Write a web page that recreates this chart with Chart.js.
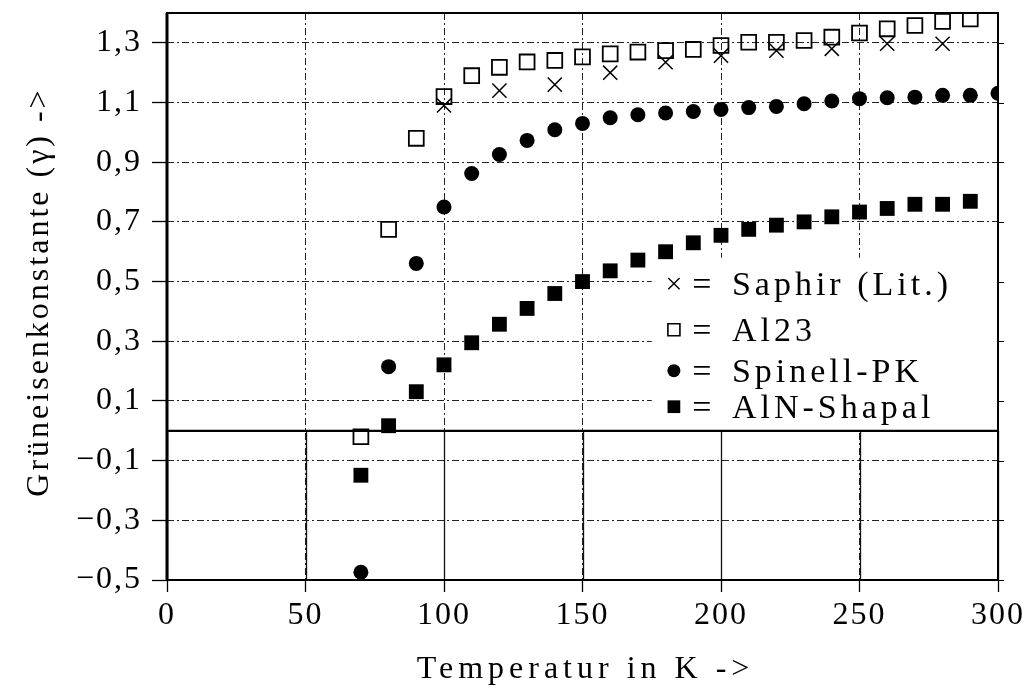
<!DOCTYPE html>
<html lang="de">
<head>
<meta charset="utf-8">
<title>Grüneisenkonstante</title>
<script src="https://cdn.jsdelivr.net/npm/chart.js@4.4.1/dist/chart.umd.min.js"></script>
<style>
  html, body { margin: 0; padding: 0; background: #fff; }
  canvas { display: block; }
</style>
</head>
<body>
<canvas id="gamma" width="1027" height="697"></canvas>
<script>
// Messwerte: Temperatur in K und Grüneisenkonstante
const saphirT = [100, 120, 140, 160, 180, 200, 220, 240, 260, 280];
const saphirG = [1.09, 1.14, 1.16, 1.20, 1.235, 1.257, 1.274, 1.28, 1.297, 1.297];

const al23T = [70, 80, 90, 100, 110, 120, 130, 140, 150, 160, 170, 180, 190, 200, 210, 220, 230, 240, 250, 260, 270, 280, 290];
const al23G = [-0.02, 0.675, 0.98, 1.12, 1.19, 1.218, 1.236, 1.241, 1.253, 1.263, 1.269, 1.274, 1.278, 1.291, 1.302, 1.302, 1.308, 1.319, 1.333, 1.347, 1.358, 1.372, 1.38];

const spinellT = [70, 80, 90, 100, 110, 120, 130, 140, 150, 160, 170, 180, 190, 200, 210, 220, 230, 240, 250, 260, 270, 280, 290, 300];
const spinellG = [-0.474, 0.215, 0.561, 0.75, 0.862, 0.926, 0.973, 1.009, 1.03, 1.049, 1.059, 1.065, 1.07, 1.077, 1.083, 1.087, 1.096, 1.105, 1.113, 1.116, 1.118, 1.124, 1.124, 1.131];

const alnT = [70, 80, 90, 100, 110, 120, 130, 140, 150, 160, 170, 180, 190, 200, 210, 220, 230, 240, 250, 260, 270, 280, 290];
const alnG = [-0.149, 0.017, 0.131, 0.221, 0.295, 0.357, 0.41, 0.46, 0.5, 0.536, 0.572, 0.60, 0.63, 0.655, 0.675, 0.689, 0.70, 0.717, 0.733, 0.745, 0.759, 0.759, 0.769];

const seriesNames = ['Saphir (Lit.)', 'Al23', 'Spinell-PK', 'AlN-Shapal'];
const xTicks = [0, 50, 100, 150, 200, 250, 300];
const yTicks = [-0.5, -0.3, -0.1, 0.1, 0.3, 0.5, 0.7, 0.9, 1.1, 1.3];
const xTitle = 'Temperatur in K ->';
const yTitle = 'Grüneisenkonstante (γ) ->';

const serif = "'Liberation Serif', 'Times New Roman', serif";
Chart.defaults.font.family = serif;
Chart.defaults.color = '#000';

function pairs(xs, ys) {
  return xs.map((x, i) => ({ x: x, y: ys[i] }));
}

function fmt(v) {
  const s = Math.abs(v).toFixed(1).replace('.', ',');
  return v < 0 ? '\u2212' + s : s;
}

// symbol sizes used in the legend box
const legendMarks = [
  { pointStyle: 'crossRot', radius: 8, borderWidth: 1.4 },
  { pointStyle: 'rect', radius: 8.5, borderWidth: 1.6 },
  { pointStyle: 'circle', radius: 6.5, borderWidth: 0 },
  { pointStyle: 'rect', radius: 9, borderWidth: 0 }
];
const legendRows = [26, 72, 113, 149];

const framePlugin = {
  id: 'frame',
  beforeDraw(chart) {
    chart.ctx.letterSpacing = '2px';
  },
  beforeDatasetsDraw(chart) {
    const ctx = chart.ctx;
    const a = chart.chartArea;
    const xs = chart.scales.x;
    const ys = chart.scales.y;
    const y0 = ys.getPixelForValue(0);
    ctx.save();
    // below zero the vertical grid is solid
    ctx.strokeStyle = '#111';
    ctx.lineWidth = 1.3;
    ctx.beginPath();
    xTicks.forEach(t => {
      const px = Math.round(xs.getPixelForValue(t)) + 0.5;
      ctx.moveTo(px, y0);
      ctx.lineTo(px, a.bottom);
    });
    ctx.stroke();

    // white field behind the legend
    const bx = xs.getPixelForValue(175);
    const by = ys.getPixelForValue(0.58);
    ctx.fillStyle = '#fff';
    ctx.fillRect(bx, by, a.right - bx, y0 - by);

    // zero line
    ctx.strokeStyle = '#000';
    ctx.lineWidth = 2.2;
    ctx.beginPath();
    ctx.moveTo(a.left, y0);
    ctx.lineTo(a.right, y0);
    ctx.stroke();

    // plot frame
    ctx.lineWidth = 2;
    ctx.strokeRect(a.left, a.top, a.right - a.left, a.bottom - a.top);
    ctx.lineWidth = 3;
    ctx.beginPath();
    ctx.moveTo(a.left, a.top);
    ctx.lineTo(a.left, a.bottom);
    ctx.stroke();

    // little ticks on the right edge
    ctx.lineWidth = 1;
    ctx.beginPath();
    yTicks.forEach(t => {
      const py = Math.round(ys.getPixelForValue(t)) + 0.5;
      ctx.moveTo(a.right, py);
      ctx.lineTo(a.right + 6, py);
    });
    ctx.stroke();
    ctx.restore();
  },
  afterDatasetsDraw(chart) {
    const ctx = chart.ctx;
    const a = chart.chartArea;
    const xs = chart.scales.x;
    const ys = chart.scales.y;
    const top = ys.getPixelForValue(0.58);
    const mx = xs.getPixelForValue(183);
    ctx.save();
    ctx.textBaseline = 'middle';
    ctx.font = '34px ' + serif;
    ctx.fillStyle = '#000';
    chart.data.datasets.forEach((ds, i) => {
      const py = top + legendRows[i];
      const m = legendMarks[i];
      ctx.fillStyle = ds.backgroundColor;
      ctx.strokeStyle = ds.borderColor;
      ctx.lineWidth = m.borderWidth;
      Chart.helpers.drawPoint(ctx, { pointStyle: m.pointStyle, radius: m.radius, rotation: 0, borderWidth: m.borderWidth }, mx, py);
      ctx.fillStyle = '#000';
      ctx.letterSpacing = '0px';
      ctx.textAlign = 'center';
      ctx.fillText('=', mx + 28, py + 2);
      ctx.textAlign = 'left';
      ctx.letterSpacing = '4px';
      ctx.fillText(ds.label, mx + 58, py + 2);
    });

    // axis titles
    ctx.font = '32px ' + serif;
    ctx.textAlign = 'center';
    ctx.letterSpacing = '5px';
    ctx.fillText(xTitle, (a.left + a.right) / 2 + 3, 670);
    ctx.translate(40, 292);
    ctx.rotate(-Math.PI / 2);
    ctx.letterSpacing = '3px';
    ctx.fillText(yTitle, 0, 0);
    ctx.restore();
  },
  afterDraw(chart) {
    chart.ctx.letterSpacing = '0px';
  }
};

const gridDash = [7, 3, 2, 3];

new Chart(document.getElementById('gamma'), {
  type: 'scatter',
  data: {
    datasets: [
      {
        label: seriesNames[0],
        data: pairs(saphirT, saphirG),
        pointStyle: 'crossRot',
        pointRadius: 10,
        borderWidth: 1.5,
        borderColor: '#000',
        backgroundColor: '#000'
      },
      {
        label: seriesNames[1],
        data: pairs(al23T, al23G),
        pointStyle: 'rect',
        pointRadius: 10.5,
        borderWidth: 1.8,
        borderColor: '#000',
        backgroundColor: 'rgba(0,0,0,0)'
      },
      {
        label: seriesNames[2],
        data: pairs(spinellT, spinellG),
        pointStyle: 'circle',
        pointRadius: 7.5,
        borderWidth: 0,
        borderColor: '#000',
        backgroundColor: '#000'
      },
      {
        label: seriesNames[3],
        data: pairs(alnT, alnG),
        pointStyle: 'rect',
        pointRadius: 10.5,
        borderWidth: 0,
        borderColor: '#000',
        backgroundColor: '#000'
      }
    ]
  },
  options: {
    responsive: false,
    animation: false,
    layout: { padding: { top: 13, right: 29, left: 0, bottom: 0 } },
    plugins: {
      legend: { display: false },
      tooltip: { enabled: false }
    },
    scales: {
      x: {
        type: 'linear',
        min: 0,
        max: 300,
        afterBuildTicks: s => { s.ticks = xTicks.map(v => ({ value: v })); },
        afterFit: s => { s.height = 117; s.paddingLeft = 0; s.paddingRight = 0; },
        ticks: {
          font: { size: 32 },
          padding: 4,
          maxRotation: 0,
          autoSkip: false,
          callback: v => String(v)
        },
        grid: {
          color: '#222',
          lineWidth: 1,
          tickLength: 12,
          tickColor: '#000',
          tickWidth: 1.3,
          tickBorderDash: []
        },
        border: { display: false, dash: gridDash }
      },
      y: {
        type: 'linear',
        min: -0.5,
        max: 1.4,
        afterBuildTicks: s => { s.ticks = yTicks.map(v => ({ value: v })); },
        afterFit: s => { s.width = 167; s.paddingTop = 0; s.paddingBottom = 0; },
        ticks: {
          font: { size: 32 },
          padding: 10,
          autoSkip: false,
          callback: v => fmt(v)
        },
        grid: {
          color: '#222',
          lineWidth: 1,
          tickLength: 15,
          tickColor: '#000',
          tickWidth: 1.3,
          tickBorderDash: []
        },
        border: { display: false, dash: gridDash }
      }
    }
  },
  plugins: [framePlugin]
});
</script>
</body>
</html>
